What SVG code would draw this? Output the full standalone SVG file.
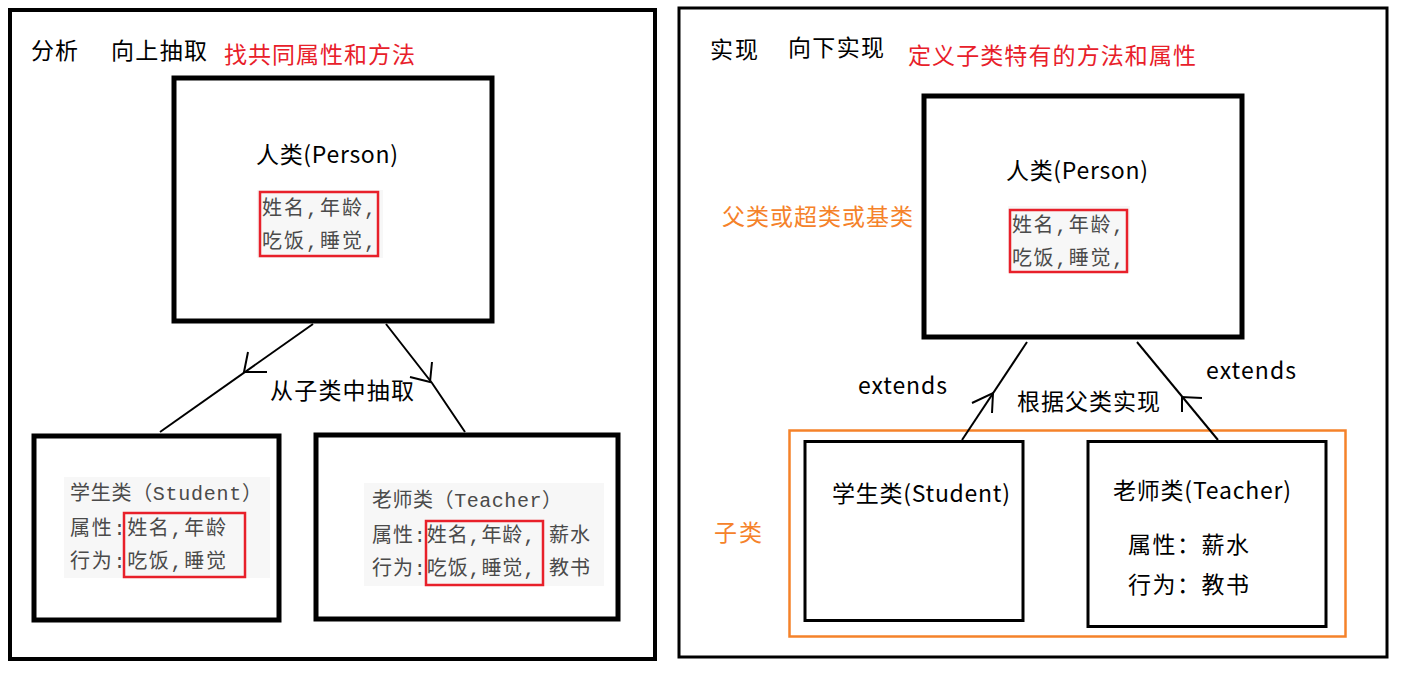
<svg xmlns="http://www.w3.org/2000/svg" width="1401" height="674" viewBox="0 0 1401 674">
<style>
.frame{fill:none;stroke:#000}
.box{fill:#fff;stroke:#000}
.lbl{font-family:"Noto Sans CJK SC","Microsoft YaHei",sans-serif;fill:#000;font-size:23px}
.red{fill:#e8202a}
.org{fill:#f5822a}
.code{font-family:"Liberation Mono","Noto Sans CJK SC",monospace;fill:#4a4a4a;font-size:20px}
.bg{fill:#f7f7f7}
.hl{fill:none;stroke:#e8202a;stroke-width:2.5}
.conn{fill:none;stroke:#000;stroke-width:2}
</style>
<rect width="1401" height="674" fill="#fff"/>
<g id="left-panel">
<rect class="frame" x="10" y="10" width="645" height="649" stroke-width="4"/>
<text class="lbl" x="31" y="59" textLength="47">分析</text>
<text class="lbl" x="111" y="59" textLength="96">向上抽取</text>
<text class="lbl red" x="224" y="63" textLength="191">找共同属性和方法</text>
</g>
<g id="left-person">
<rect class="box" x="174" y="78" width="318" height="243" stroke-width="5"/>
<text class="lbl" x="256" y="163" textLength="142">人类(Person)</text>
<rect class="bg" x="257" y="190" width="126" height="68"/>
<text class="code" x="262" y="215" textLength="114">姓名,年龄,</text>
<text class="code" x="262" y="248" textLength="114">吃饭,睡觉,</text>
<rect class="hl" x="260" y="192" width="118" height="64"/>
</g>
<g id="left-student">
<rect class="box" x="34" y="436" width="245" height="184" stroke-width="5"/>
<rect class="bg" x="64" y="477" width="206" height="101"/>
<text class="code" x="70" y="500" textLength="192">学生类（Student）</text>
<text class="code" x="70" y="535" textLength="156">属性:姓名,年龄</text>
<text class="code" x="70" y="568" textLength="156">行为:吃饭,睡觉</text>
<rect class="hl" x="124" y="513" width="121" height="64"/>
</g>
<g id="left-teacher">
<rect class="box" x="316" y="435" width="302" height="184" stroke-width="5"/>
<rect class="bg" x="364" y="483" width="240" height="103"/>
<text class="code" x="372" y="507" textLength="190">老师类（Teacher）</text>
<text class="code" x="372" y="542" textLength="218">属性:姓名,年龄, 薪水</text>
<text class="code" x="372" y="575" textLength="218">行为:吃饭,睡觉, 教书</text>
<rect class="hl" x="426" y="521" width="117" height="64"/>
</g>
<g id="right-panel">
<rect class="frame" x="679" y="8" width="708" height="649" stroke-width="3"/>
<text class="lbl" x="710" y="58" textLength="48">实现</text>
<text class="lbl" x="788" y="56" textLength="96">向下实现</text>
<text class="lbl red" x="908" y="64" textLength="288">定义子类特有的方法和属性</text>
<text class="lbl org" x="722" y="225" textLength="191">父类或超类或基类</text>
<text class="lbl org" x="714" y="541" textLength="48">子类</text>
<rect x="789.5" y="430.5" width="556" height="206" fill="none" stroke="#f5822a" stroke-width="2.5"/>
</g>
<g id="right-person">
<rect class="box" x="924" y="96" width="318" height="241" stroke-width="5"/>
<text class="lbl" x="1006" y="179" textLength="142">人类(Person)</text>
<rect class="bg" x="1008" y="206" width="122" height="66"/>
<text class="code" x="1012" y="232" textLength="112">姓名,年龄,</text>
<text class="code" x="1012" y="265" textLength="112">吃饭,睡觉,</text>
<rect class="hl" x="1010" y="210" width="117" height="62"/>
</g>
<g id="right-student">
<rect class="box" x="805" y="441.5" width="218" height="179" stroke-width="3"/>
<text class="lbl" x="832" y="502" textLength="178">学生类(Student)</text>
</g>
<g id="right-teacher">
<rect class="box" x="1088" y="441.5" width="238" height="185" stroke-width="3"/>
<text class="lbl" x="1113" y="499" textLength="178">老师类(Teacher)</text>
<text class="lbl" x="1128" y="553" textLength="121">属性：薪水</text>
<text class="lbl" x="1128" y="593" textLength="121">行为：教书</text>
</g>
<g id="connectors">
<path class="conn" d="M313,324 L160,432"/>
<path class="conn" d="M248,352 L244,372 L267,372"/>
<path class="conn" d="M386,324 L432,383 L465,432"/>
<path class="conn" d="M432,362 L430,382 L410,377"/>
<text class="lbl" x="270" y="399" textLength="144">从子类中抽取</text>
<path class="conn" d="M962,440 L1027,342"/>
<path class="conn" d="M992,413 L993,393 L972,403"/>
<path class="conn" d="M1218,440 L1137,342"/>
<path class="conn" d="M1182,412 L1182,397 L1202,398"/>
<text class="lbl" x="858" y="394" textLength="89">extends</text>
<text class="lbl" x="1206" y="379" textLength="90">extends</text>
<text class="lbl" x="1017" y="410" textLength="143">根据父类实现</text>
</g>
</svg>
